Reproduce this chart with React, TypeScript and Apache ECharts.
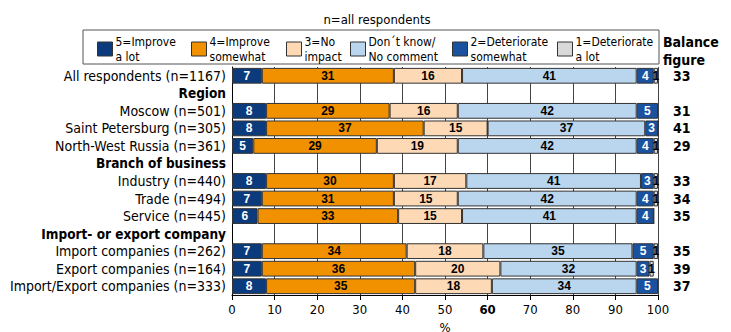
import { useEffect, useRef } from "react";
import * as echarts from "echarts";

// Survey groups, top to bottom (header rows carry no bars)
const categories = [
  "All respondents (n=1167)",
  "Region",
  "Moscow (n=501)",
  "Saint Petersburg (n=305)",
  "North-West Russia (n=361)",
  "Branch of business",
  "Industry (n=440)",
  "Trade (n=494)",
  "Service (n=445)",
  "Import- or export company",
  "Import companies (n=262)",
  "Export companies (n=164)",
  "Import/Export companies (n=333)",
];
const headerRows = ["Region", "Branch of business", "Import- or export company"];

// Shares of answers, %
const improveLot = [7, null, 8, 8, 5, null, 8, 7, 6, null, 7, 7, 8];
const improveSomewhat = [31, null, 29, 37, 29, null, 30, 31, 33, null, 34, 36, 35];
const noImpact = [16, null, 16, 15, 19, null, 17, 15, 15, null, 18, 20, 18];
const dontKnow = [41, null, 42, 37, 42, null, 41, 42, 41, null, 35, 32, 34];
const deteriorateSomewhat = [4, null, 5, 3, 4, null, 3, 4, 4, null, 5, 3, 5];
const deteriorateLot = [1, null, 1, 0, 1, null, 1, 1, 0, null, 1, 1, 1];

// Balance figure per row
const balance = [33, null, 31, 41, 29, null, 33, 34, 35, null, 35, 39, 37];

const xTicks = [0, 10, 20, 30, 40, 50, 60, 70, 80, 90, 100];

const seriesNames = [
  "5=Improve\na lot",
  "4=Improve\nsomewhat",
  "3=No\nimpact",
  "Don´t know/\nNo comment",
  "2=Deteriorate\nsomewhat",
  "1=Deteriorate\na lot",
];
const seriesData = [improveLot, improveSomewhat, noImpact, dontKnow, deteriorateSomewhat, deteriorateLot];
const seriesColors = ["#0b3b7c", "#f29100", "#fdd9b5", "#b9d6ee", "#1a52a0", "#d9d9d9"];
const labelColors = ["#fff", "#000", "#000", "#000", "#fff", "#000"];

const legendLefts = [97, 191, 286, 350, 452, 557];

const NARROW = "'DejaVu Sans Condensed', 'Liberation Sans Narrow', sans-serif";
const BOLD = "'Liberation Sans', Arial, sans-serif";

export default function App() {
  const ref = useRef<HTMLDivElement>(null);

  useEffect(() => {
    if (!ref.current) return;
    const chart = echarts.init(ref.current, undefined, { renderer: "svg" });

    const option = {
      animation: false,
      backgroundColor: "#fff",
      grid: {
        left: 232,
        width: 426,
        top: 67,
        height: 228,
        containLabel: false,
        outerBoundsMode: "none",
      },
      graphic: [
        {
          type: "rect",
          shape: { x: 83, y: 30, width: 576, height: 34 },
          style: { fill: "none", stroke: "#555", lineWidth: 1 },
          z: 0,
        },
        {
          type: "text",
          x: 377,
          y: 19,
          style: {
            text: "n=all respondents",
            font: `13px ${NARROW}`,
            fill: "#000",
            textAlign: "center",
            textVerticalAlign: "middle",
          },
        },
        {
          type: "text",
          x: 663,
          y: 33,
          style: {
            text: "Balance\nfigure",
            font: `bold 14px ${NARROW}`,
            lineHeight: 18,
            fill: "#000",
            textAlign: "left",
            textVerticalAlign: "top",
          },
        },
      ],
      legend: seriesNames.map((name, i) => ({
        data: [name],
        left: legendLefts[i],
        top: 34,
        padding: 0,
        icon: "rect",
        itemWidth: 15,
        itemHeight: 14,
        selectedMode: false,
        itemStyle: { borderColor: "#333", borderWidth: 1 },
        textStyle: { fontSize: 12, lineHeight: 15, fontFamily: NARROW, color: "#000", padding: [0, 0, 0, -2] },
      })),
      xAxis: {
        type: "value",
        min: 0,
        max: 100,
        interval: 10,
        name: "%",
        nameLocation: "middle",
        nameGap: 25,
        nameTextStyle: { fontSize: 13, fontFamily: NARROW, color: "#000" },
        axisLine: { show: true, lineStyle: { color: "#000", width: 1 } },
        axisTick: { show: true, length: 5, lineStyle: { color: "#000" } },
        splitLine: { show: true, lineStyle: { color: "#444", width: 1 } },
        axisLabel: {
          margin: 8,
          fontSize: 13,
          fontFamily: NARROW,
          color: "#000",
          formatter: (v: number) => (xTicks.includes(v) ? (v === 60 ? `{b|${v}}` : `${v}`) : ""),
          rich: { b: { fontSize: 13, fontFamily: NARROW, fontWeight: "bold", color: "#000" } },
        },
      },
      yAxis: [
        {
          type: "category",
          data: categories,
          inverse: true,
          axisLine: { show: true, lineStyle: { color: "#000", width: 1 } },
          axisTick: { show: false },
          splitLine: { show: false },
          axisLabel: {
            interval: 0,
            margin: 6,
            fontSize: 14,
            fontFamily: NARROW,
            color: "#000",
            formatter: (v: string) => (headerRows.includes(v) ? `{h|${v}}` : v),
            rich: { h: { fontSize: 13.5, fontFamily: NARROW, fontWeight: "bold", color: "#000" } },
          },
        },
        {
          type: "category",
          data: balance.map((b) => (b === null ? "" : String(b))),
          inverse: true,
          position: "right",
          axisLine: { show: false },
          axisTick: { show: false },
          splitLine: { show: false },
          axisLabel: {
            interval: 0,
            margin: 15,
            align: "left",
            fontSize: 14,
            fontWeight: "bold",
            fontFamily: NARROW,
            color: "#000",
          },
        },
      ],
      series: seriesNames.map((name, i) => ({
        name,
        type: "bar",
        stack: "total",
        yAxisIndex: 0,
        barCategoryGap: "10%",
        data: seriesData[i],
        itemStyle: { color: seriesColors[i], borderColor: "#333", borderWidth: 1 },
        label: {
          show: true,
          position: "inside",
          fontSize: 12,
          fontWeight: "bold",
          fontFamily: BOLD,
          color: labelColors[i],
          formatter: (p: any) => (p.value ? String(p.value) : ""),
        },
      })),
    };

    chart.setOption(option as any);
    return () => chart.dispose();
  }, []);

  return <div ref={ref} style={{ position: "absolute", left: 0, top: 0, width: 731, height: 332 }} />;
}
